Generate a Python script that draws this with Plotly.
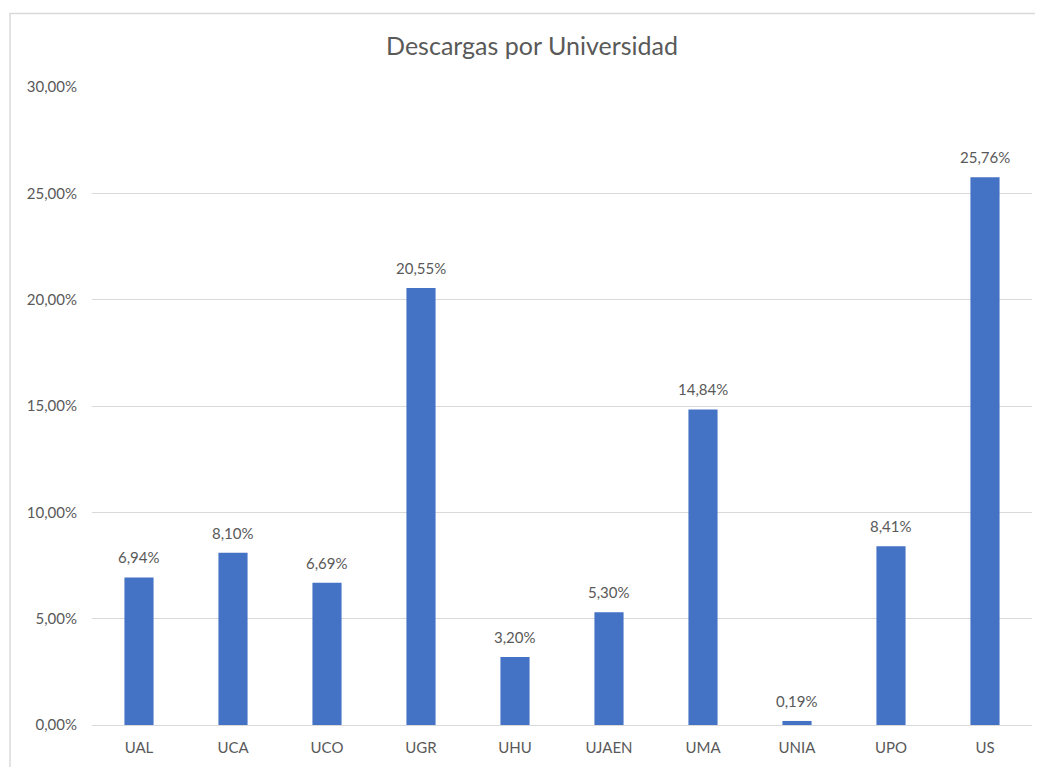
import plotly.graph_objects as go

categories = ["UAL", "UCA", "UCO", "UGR", "UHU", "UJAEN", "UMA", "UNIA", "UPO", "US"]
values = [6.94, 8.10, 6.69, 20.55, 3.20, 5.30, 14.84, 0.19, 8.41, 25.76]
tick_vals = [0, 5, 10, 15, 20, 25, 30]
tick_text = ["0,00%", "5,00%", "10,00%", "15,00%", "20,00%", "25,00%", "30,00%"]
labels = [f"{v:.2f}".replace(".", ",") + "%" for v in values]

FONT = "Lato, 'Open Sans', sans-serif"
GREY = "#595959"

# page offset (body margin) of 8px at top/left
OFF = 8
W, H = 1043 - OFF, 767 - OFF
L, R, T, B = 92 - OFF, 11, 87 - OFF, 38
PW, PH = W - L - R, H - T - B

fig = go.Figure(go.Bar(
    x=categories, y=values,
    marker=dict(color="#4472C4", line=dict(width=0)),
))

annotations = [dict(x=c, y=v, text=t, showarrow=False, xref="x", yref="y",
                    yanchor="bottom", yshift=9,
                    font=dict(family=FONT, size=15, color=GREY))
               for c, v, t in zip(categories, values, labels)]

fig.update_layout(
    width=W, height=H,
    margin=dict(l=L, r=R, t=T, b=B),
    paper_bgcolor="white", plot_bgcolor="white",
    bargap=0.69,
    showlegend=False,
    font=dict(family=FONT, size=14, color=GREY),
    title=dict(text="Descargas por Universidad", x=(532 - OFF) / W,
               xanchor="center", y=1 - (46 - OFF) / H, yanchor="middle",
               font=dict(family=FONT, size=25, color=GREY)),
    xaxis=dict(showgrid=False, showline=False, ticks="", ticklabelstandoff=12,
               tickfont=dict(size=15, color=GREY)),
    yaxis=dict(range=[0, 30], tickvals=tick_vals, ticktext=tick_text,
               showgrid=True, gridcolor="#D9D9D9", gridwidth=1,
               zeroline=True, zerolinecolor="#D9D9D9", zerolinewidth=1,
               showline=False, ticks="", ticklabelstandoff=14,
               tickfont=dict(size=15, color=GREY)),
    annotations=annotations,
    shapes=[dict(type="rect", xref="paper", yref="paper",
                 x0=(10 - OFF - L) / PW, x1=(W + 20 - L) / PW,
                 y0=-(B + 20) / PH, y1=(H - (13 - OFF) - B) / PH,
                 line=dict(color="#D9D9D9", width=1.5), fillcolor="rgba(0,0,0,0)", layer="below")],
)
fig.write_html("out.html")
